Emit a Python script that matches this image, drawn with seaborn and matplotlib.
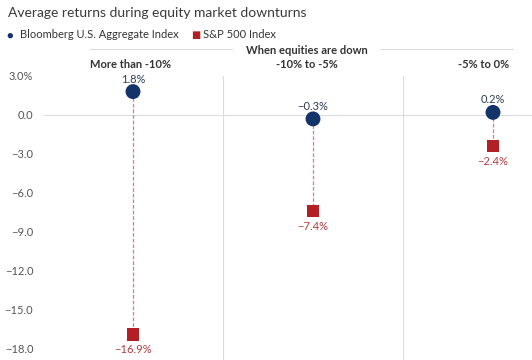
import pandas as pd
import seaborn as sns
import matplotlib.pyplot as plt

categories = ["More than -10%", "-10% to -5%", "-5% to 0%"]
bond_returns = [1.8, -0.3, 0.2]
stock_returns = [-16.9, -7.4, -2.4]
y_ticks = [3, 0, -3, -6, -9, -12, -15, -18]
y_tick_labels = ["3.0%", "0.0", "\u22123.0", "\u22126.0", "\u22129.0", "\u221212.0", "\u221215.0", "\u221218.0"]

NAVY = "#13336b"
RED = "#b22025"
GRID = "#dcdcdc"

sns.set_style("white")
plt.rcParams["font.family"] = ["Lato", "DejaVu Sans"]

df = pd.DataFrame({
    "category": categories * 2,
    "value": bond_returns + stock_returns,
    "series": ["Bloomberg U.S. Aggregate Index"] * 3 + ["S&P 500 Index"] * 3,
})

fig = plt.figure(figsize=(5.32, 3.6), dpi=100)
ax = fig.add_axes([43 / 532, 0.0, 1 - 43 / 532, (360 - 76) / 360])

# dashed connectors
for i, (b, s) in enumerate(zip(bond_returns, stock_returns)):
    ax.plot([i, i], [b, s], color="#e07a7a", lw=0.9, ls=(0, (3, 1.5)), zorder=1)

sns.scatterplot(
    data=df, x="category", y="value", hue="series", style="series",
    palette=[NAVY, RED], markers=["o", "s"], legend=False, ax=ax,
    size="series", sizes=[115, 80], edgecolor="none", zorder=3,
)

for i, (b, s) in enumerate(zip(bond_returns, stock_returns)):
    bl = f"{b:.1f}%".replace("-", "\u2212")
    sl = f"{s:.1f}%".replace("-", "\u2212")
    ax.annotate(bl, (i, b), xytext=(0, 5), textcoords="offset points",
                ha="center", va="bottom", fontsize=8, color="#2e3b55")
    ax.annotate(sl, (i, s), xytext=(0, -7), textcoords="offset points",
                ha="center", va="top", fontsize=8, color="#b23a3e")

ax.axhline(0, color=GRID, lw=0.8, zorder=0)
for xv in [0.5, 1.5]:
    ax.axvline(xv, color=GRID, lw=0.8, zorder=0)

ax.set_xlim(-0.5, -0.5 + (532 - 43) / 180)
ax.set_ylim(-18.85, 3.0)
ax.set_yticks(y_ticks)
ax.set_yticklabels(y_tick_labels, fontsize=8, color="#555555")
ax.tick_params(axis="y", length=0, pad=7)
ax.set_xticks([])
ax.set_xlabel("")
ax.set_ylabel("")
sns.despine(ax=ax, left=True, bottom=True)
ax.patch.set_alpha(0)

# title and legend
fig.text(8 / 532, 1 - 13 / 360, "Average returns during equity market downturns",
         fontsize=10, color="#3a3a3a", va="center", ha="left")
fig.text(10 / 532, 1 - 35 / 360, "\u25cf", fontsize=8, color=NAVY, va="center", ha="center")
fig.text(20 / 532, 1 - 35 / 360, "Bloomberg U.S. Aggregate Index", fontsize=8,
         color="#333333", va="center", ha="left")
fig.text(196 / 532, 1 - 35 / 360, "\u25a0", fontsize=7, color=RED, va="center", ha="center",
         family="DejaVu Sans")
fig.text(203 / 532, 1 - 35 / 360, "S&P 500 Index", fontsize=8,
         color="#333333", va="center", ha="left")

# header
fig.text(307 / 532, 1 - 51 / 360, "When equities are down", fontsize=8,
         fontweight="bold", color="#333333", va="center", ha="center")
fig.add_artist(plt.Line2D([90 / 532, 232 / 532], [1 - 49 / 360] * 2, color=GRID, lw=0.8))
fig.add_artist(plt.Line2D([380 / 532, 513 / 532], [1 - 49 / 360] * 2, color=GRID, lw=0.8))
for xp, cat in zip([130, 307, 484], categories):
    fig.text(xp / 532, 1 - 64 / 360, cat, fontsize=8, fontweight="bold",
             color="#333333", va="center", ha="center")

fig.savefig("out.png", dpi=100)
